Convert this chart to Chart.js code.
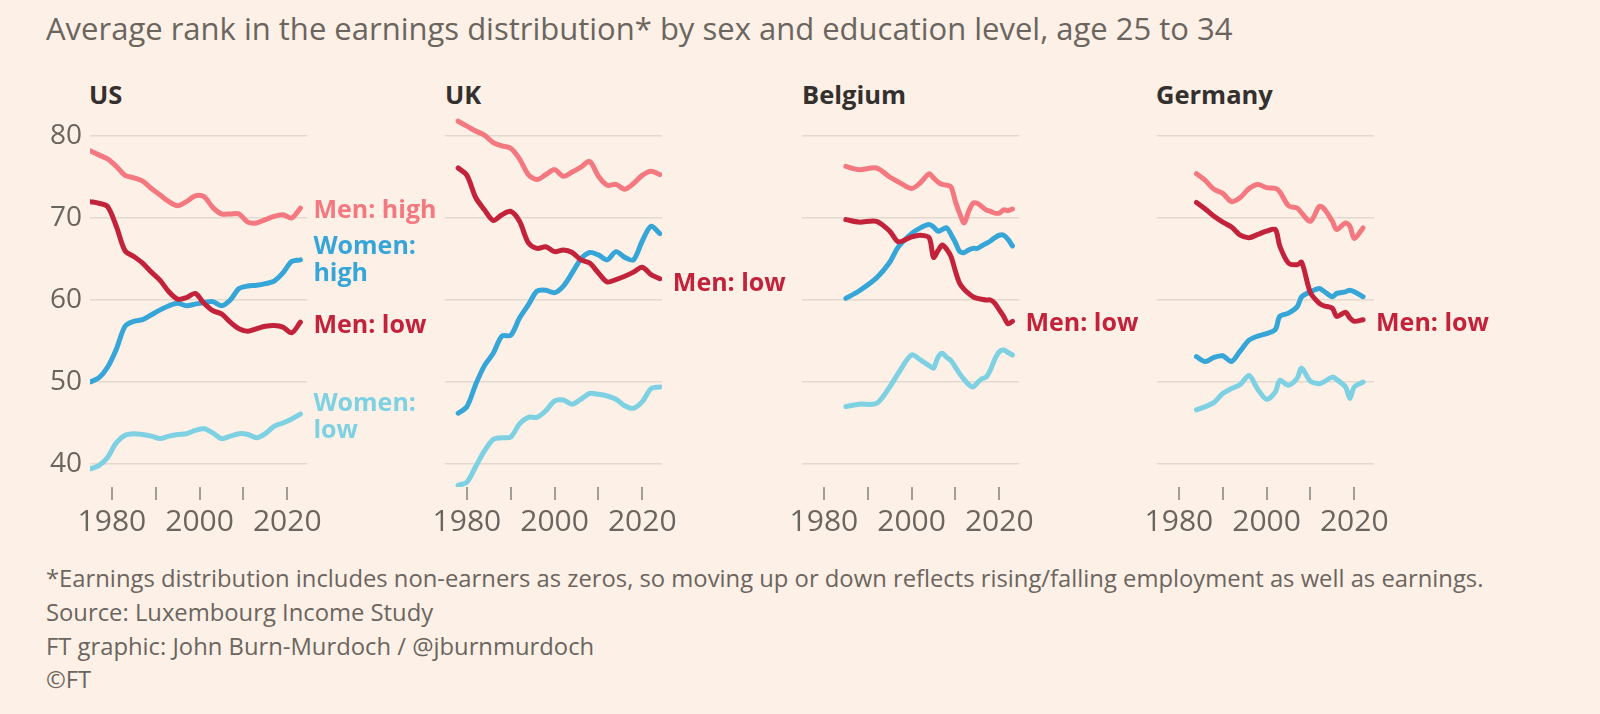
<!DOCTYPE html>
<html>
<head>
<meta charset="utf-8">
<script src="https://cdn.jsdelivr.net/npm/chart.js@4.4.1/dist/chart.umd.min.js"></script>
<style>
  body { margin: 0; background: #fdf0e6; width: 1600px; height: 714px; overflow: hidden; font-family: "Open Sans", Lato, sans-serif; }
  .abs { position: absolute; white-space: nowrap; line-height: 1.3; }
  #title { left: 46px; top: 8px; font-size: 31px; color: #6b6560; }
  .ptitle { top: 78px; font-size: 25.5px; font-weight: bold; color: #33302e; }
  .note { left: 46px; font-size: 23.8px; color: #6b6560; }
  canvas { position: absolute; }
</style>
</head>
<body>
<div id="title" class="abs">Average rank in the earnings distribution* by sex and education level, age 25 to 34</div>
<div class="abs ptitle" style="left:89px">US</div>
<div class="abs ptitle" style="left:445px">UK</div>
<div class="abs ptitle" style="left:802px">Belgium</div>
<div class="abs ptitle" style="left:1156px">Germany</div>

<canvas id="c_us" width="417" height="445"></canvas>
<canvas id="c_uk" width="417" height="445"></canvas>
<canvas id="c_be" width="417" height="445"></canvas>
<canvas id="c_de" width="417" height="445"></canvas>

<div class="abs note" style="top:563px">*Earnings distribution includes non-earners as zeros, so moving up or down reflects rising/falling employment as well as earnings.</div>
<div class="abs note" style="top:597px">Source: Luxembourg Income Study</div>
<div class="abs note" style="top:631px">FT graphic: John Burn-Murdoch / @jburnmurdoch</div>
<div class="abs note" style="top:664px">©FT</div>

<script>
// values
const usYears = [1975,1977,1979,1981,1983,1985,1987,1989,1991,1993,1995,1997,1999,2001,2003,2005,2007,2009,2011,2013,2015,2017,2019,2021,2023];
const usMenHigh = [78.2,77.7,77.2,76.3,75.2,74.9,74.5,73.6,72.8,72.0,71.5,72.0,72.7,72.6,71.3,70.5,70.5,70.5,69.5,69.4,69.8,70.2,70.4,70.0,71.2];
const usMenLow = [72.0,71.8,71.4,69.0,66.0,65.3,64.5,63.4,62.4,61.0,60.1,60.3,60.8,59.6,58.7,58.3,57.3,56.5,56.2,56.5,56.8,56.9,56.7,56.0,57.3];
const usWomenHigh = [50.0,50.5,51.8,54.0,56.8,57.4,57.6,58.2,58.8,59.3,59.6,59.3,59.5,59.7,59.8,59.3,60.0,61.4,61.7,61.8,62.0,62.3,63.3,64.7,64.9];
const usWomenLow = [39.4,39.8,40.8,42.6,43.5,43.7,43.6,43.4,43.1,43.4,43.6,43.7,44.1,44.3,43.8,43.1,43.4,43.7,43.6,43.2,43.7,44.6,45.0,45.5,46.1];

const ukYears = [1978,1980,1982,1984,1986,1988,1990,1992,1994,1996,1998,2000,2002,2004,2006,2008,2010,2012,2014,2016,2018,2020,2022,2024];
const ukMenHigh = [81.8,81.2,80.6,80.1,79.2,78.8,78.5,77.2,75.3,74.7,75.3,75.9,75.1,75.6,76.2,76.9,75.1,74.0,74.1,73.5,74.2,75.2,75.7,75.3];
const ukMenLow = [76.1,75.2,72.5,71.0,69.7,70.4,70.8,69.6,67.0,66.3,66.5,65.9,66.1,65.8,64.9,64.5,63.3,62.2,62.5,62.9,63.4,64.0,63.1,62.6];
const ukWomenHigh = [46.2,47.0,49.7,52.0,53.5,55.6,55.7,57.8,59.4,61.1,61.2,60.9,61.7,63.3,65.0,65.8,65.5,64.9,65.9,65.2,64.9,67.2,69.0,68.1];
const ukWomenLow = [37.4,37.8,39.7,41.6,43.0,43.2,43.3,44.9,45.7,45.7,46.5,47.7,47.8,47.3,47.9,48.6,48.5,48.3,47.9,47.1,46.8,47.6,49.2,49.4];

const beYears = [1985,1988,1992,1995,1997,2000,2002,2004,2005,2006,2007,2008,2009,2010,2011,2012,2013,2014,2015,2016,2017,2018,2019,2020,2021,2022,2023];
const beMenHigh = [76.3,75.9,76.1,75.0,74.4,73.6,74.3,75.4,74.9,74.4,74.1,74.0,73.8,72.0,70.5,69.4,70.8,71.8,71.8,71.4,71.0,70.8,70.6,70.6,71.0,70.9,71.1];
const beMenLow = [69.8,69.5,69.6,68.4,67.1,67.7,67.9,67.6,65.2,66.0,66.7,66.2,65.3,63.5,62.0,61.3,60.8,60.4,60.2,60.1,60.0,60.0,59.6,58.8,58.0,57.1,57.4];
const beWomenHigh = [60.2,61.1,62.7,64.6,66.5,68.1,68.8,69.2,68.9,68.4,68.6,68.8,68.0,67.0,65.9,65.8,66.1,66.3,66.3,66.6,66.9,67.2,67.6,67.9,67.9,67.4,66.6];
const beWomenLow = [47.0,47.3,47.4,49.4,51.1,53.3,52.7,52.0,51.7,53.0,53.5,53.0,52.6,51.8,51.0,50.3,49.7,49.4,49.9,50.4,50.6,51.5,52.8,53.7,53.9,53.6,53.3];

const deYears = [1984,1986,1988,1990,1992,1994,1996,1998,2000,2002,2003,2005,2007,2008,2010,2012,2013,2015,2016,2018,2019,2020,2022];
const deMenHigh = [75.4,74.6,73.5,73.0,72.0,72.5,73.6,74.1,73.7,73.6,73.2,71.5,71.2,70.6,69.6,71.4,71.2,69.6,68.6,69.4,69.0,67.5,68.8];
const deMenLow = [71.9,71.1,70.2,69.5,68.9,67.9,67.6,68.0,68.4,68.6,66.6,64.5,64.3,64.6,60.9,59.6,59.3,59.0,58.0,58.5,57.8,57.4,57.6];
const deWomenHigh = [53.1,52.5,53.0,53.2,52.5,53.8,55.1,55.6,55.9,56.4,58.0,58.4,59.2,60.4,61.0,61.4,61.1,60.4,60.8,61.0,61.2,61.0,60.4];
const deWomenLow = [46.6,47.0,47.5,48.6,49.2,49.7,50.8,49.1,47.9,48.8,50.2,49.6,50.5,51.7,50.1,49.8,50.0,50.6,50.3,49.4,48.0,49.4,50.0];

const yTicks = [40, 50, 60, 70, 80];
const xTicks = [1980, 1990, 2000, 2010, 2020];
const xLabelled = [1980, 2000, 2020];

const colMenHigh = '#f4787f';
const colMenLow = '#c2233b';
const colWomenHigh = '#36a5d8';
const colWomenLow = '#7dd1e2';
const grey = '#6b6560';
const fontFam = '"Open Sans", Lato, sans-serif';

// draws the series names right of the last point
const endLabels = {
  id: 'endLabels',
  afterDatasetsDraw(chart) {
    const ctx = chart.ctx;
    ctx.save();
    ctx.font = 'bold 25px ' + fontFam;
    ctx.textBaseline = 'middle';
    ctx.textAlign = 'left';
    chart.data.datasets.forEach((ds, i) => {
      if (!ds.endText) return;
      const pts = chart.getDatasetMeta(i).data;
      const p = pts[pts.length - 1];
      const lines = ds.endText.split('\n');
      const lh = 27;
      const y0 = p.y + (ds.endDy || 0) - (lines.length - 1) * lh / 2;
      ctx.fillStyle = ds.borderColor;
      lines.forEach((t, k) => ctx.fillText(t, p.x + 13, y0 + k * lh));
    });
    ctx.restore();
  }
};

function makeSeries(years, vals) {
  return years.map((y, i) => ({ x: y, y: vals[i] }));
}

function drawPanel(id, left, showY, years, menHigh, menLow, womenHigh, womenLow, labels) {
  const cv = document.getElementById(id);
  cv.style.left = left + 'px';
  cv.style.top = '100px';
  const line = (data, color, text, dy) => ({
    data: data, borderColor: color, borderWidth: 5, pointRadius: 0,
    tension: 0.3, borderCapStyle: 'round', borderJoinStyle: 'round',
    endText: text, endDy: dy
  });
  new Chart(cv.getContext('2d'), {
    type: 'line',
    data: {
      datasets: [
        line(makeSeries(years, menLow), colMenLow, labels.menLow, labels.menLowDy),
        line(makeSeries(years, menHigh), colMenHigh, labels.menHigh, 3),
        line(makeSeries(years, womenHigh), colWomenHigh, labels.womenHigh, 1),
        line(makeSeries(years, womenLow), colWomenLow, labels.womenLow, 3)
      ]
    },
    options: {
      responsive: false,
      animation: false,
      layout: { padding: { top: 11.4, right: 150, left: 0, bottom: 0 } },
      plugins: { legend: { display: false }, tooltip: { enabled: false } },
      scales: {
        x: {
          type: 'linear', min: 1975, max: 2024.5,
          afterBuildTicks: (s) => { s.ticks = xTicks.map(v => ({ value: v })); },
          afterFit: (s) => { s.height = 58; s.paddingLeft = 0; s.paddingRight = 0; },
          border: { display: false },
          grid: { drawOnChartArea: false, drawTicks: true, tickLength: 13, color: '#a39d97', lineWidth: 2 },
          ticks: {
            autoSkip: false, maxRotation: 0, padding: 4, color: grey,
            font: { size: 30, family: fontFam },
            callback: (v) => xLabelled.includes(v) ? String(v) : ''
          }
        },
        y: {
          min: 37.2, max: 83,
          afterBuildTicks: (s) => { s.ticks = yTicks.map(v => ({ value: v })); },
          afterFit: (s) => { s.width = 50; s.paddingTop = 0; s.paddingBottom = 0; },
          border: { display: false },
          grid: { color: '#e2d9cf', lineWidth: 1.5, drawTicks: false },
          ticks: {
            display: showY, padding: 8, color: grey,
            font: { size: 28, family: fontFam }
          }
        }
      }
    },
    plugins: [endLabels]
  });
}

drawPanel('c_us', 40, true, usYears, usMenHigh, usMenLow, usWomenHigh, usWomenLow,
  { menHigh: 'Men: high', menLow: 'Men: low', womenHigh: 'Women:\nhigh', womenLow: 'Women:\nlow', menLowDy: 4 });
drawPanel('c_uk', 395, false, ukYears, ukMenHigh, ukMenLow, ukWomenHigh, ukWomenLow,
  { menLow: 'Men: low', menLowDy: 5 });
drawPanel('c_be', 752, false, beYears, beMenHigh, beMenLow, beWomenHigh, beWomenLow,
  { menLow: 'Men: low', menLowDy: 3 });
drawPanel('c_de', 1107, false, deYears, deMenHigh, deMenLow, deWomenHigh, deWomenLow,
  { menLow: 'Men: low', menLowDy: 4 });
</script>
</body>
</html>
